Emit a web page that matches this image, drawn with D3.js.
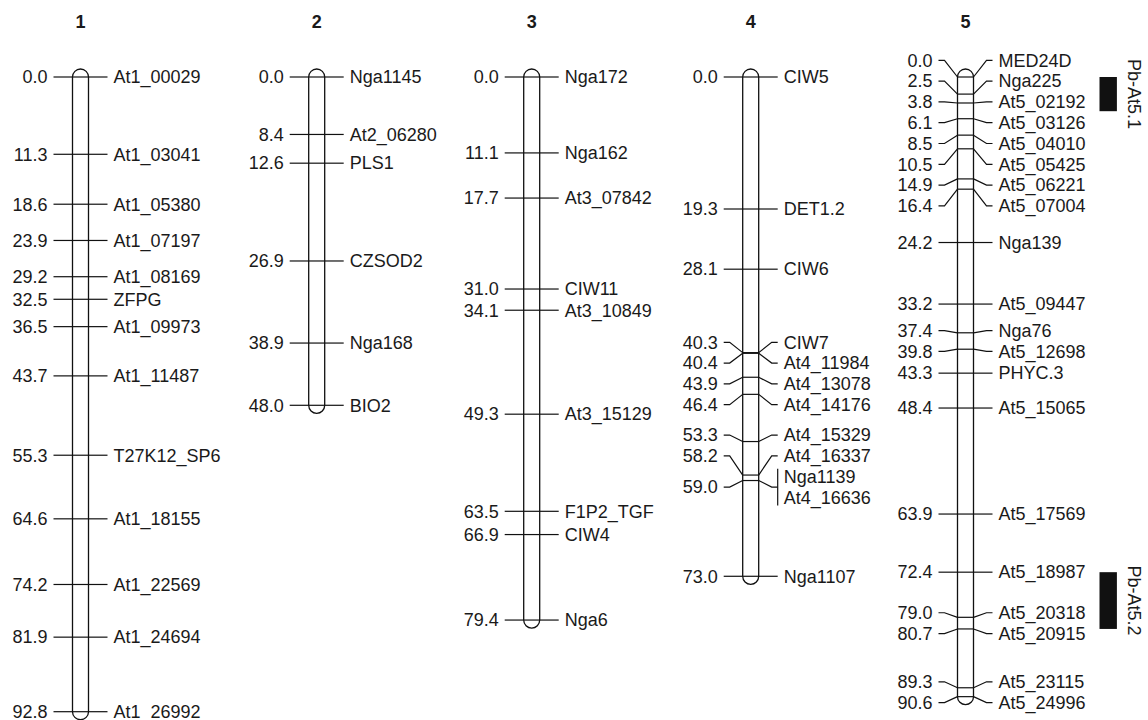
<!DOCTYPE html>
<html>
<head>
<meta charset="utf-8">
<script src="https://cdnjs.cloudflare.com/ajax/libs/d3/7.8.5/d3.min.js"></script>
<style>
body { margin: 0; background: #fff; }
text { font-family: "Liberation Sans", Arial, Helvetica, sans-serif; fill: #1a1a1a; }
</style>
</head>
<body>
<script>
// linkage groups
var chromosomes = ["1", "2", "3", "4", "5"];

var chr1Pos = [0.0, 11.3, 18.6, 23.9, 29.2, 32.5, 36.5, 43.7, 55.3, 64.6, 74.2, 81.9, 92.8];
var chr1Markers = ["At1_00029", "At1_03041", "At1_05380", "At1_07197", "At1_08169", "ZFPG", "At1_09973",
                   "At1_11487", "T27K12_SP6", "At1_18155", "At1_22569", "At1_24694", "At1_26992"];

var chr2Pos = [0.0, 8.4, 12.6, 26.9, 38.9, 48.0];
var chr2Markers = ["Nga1145", "At2_06280", "PLS1", "CZSOD2", "Nga168", "BIO2"];

var chr3Pos = [0.0, 11.1, 17.7, 31.0, 34.1, 49.3, 63.5, 66.9, 79.4];
var chr3Markers = ["Nga172", "Nga162", "At3_07842", "CIW11", "At3_10849", "At3_15129", "F1P2_TGF", "CIW4", "Nga6"];

var chr4Pos = [0.0, 19.3, 28.1, 40.3, 40.4, 43.9, 46.4, 53.3, 58.2, 59.0, 73.0];
var chr4Markers = ["CIW5", "DET1.2", "CIW6", "CIW7", "At4_11984", "At4_13078", "At4_14176", "At4_15329",
                   "At4_16337", ["Nga1139", "At4_16636"], "Nga1107"];

var chr5Pos = [0.0, 2.5, 3.8, 6.1, 8.5, 10.5, 14.9, 16.4, 24.2, 33.2, 37.4, 39.8, 43.3, 48.4, 63.9,
               72.4, 79.0, 80.7, 89.3, 90.6];
var chr5Markers = ["MED24D", "Nga225", "At5_02192", "At5_03126", "At5_04010", "At5_05425", "At5_06221",
                   "At5_07004", "Nga139", "At5_09447", "Nga76", "At5_12698", "PHYC.3", "At5_15065",
                   "At5_17569", "At5_18987", "At5_20318", "At5_20915", "At5_23115", "At5_24996"];

// QTL on chromosome 5
var qtlNames = ["Pb-At5.1", "Pb-At5.2"];
var qtlStart = [0.0, 72.4];
var qtlEnd = [5.0, 80.7];

var maps = [
    { name: "1", pos: chr1Pos, markers: chr1Markers },
    { name: "2", pos: chr2Pos, markers: chr2Markers },
    { name: "3", pos: chr3Pos, markers: chr3Markers },
    { name: "4", pos: chr4Pos, markers: chr4Markers },
    { name: "5", pos: chr5Pos, markers: chr5Markers }
];

var width = 1148, height = 720;
var halfW = 8, tickOut = 19, diag = 13, labelGap = 20.8;

var svg = d3.select("body")
            .append("svg")
            .attr("width", width)
            .attr("height", height)
            .attr("style", "background-color: #fff");

var x = d3.scaleOrdinal().domain(chromosomes).range([80.5, 316.7, 531.7, 750.7, 965.5]);
var y = d3.scaleLinear().domain([0, 92.8]).range([77, 711.7]);

var line = d3.line();

// push overlapping labels apart, each cluster centred on its first and last marker
function spreadLabels(items) {
    var blocks = items.map(function(d, i) { return { a: i, b: i }; });
    function placeBlock(bl) {
        var offs = [], acc = 0;
        for (var k = bl.a; k <= bl.b; k++) {
            var h = items[k].names.length * labelGap;
            offs.push(acc + h / 2);
            acc += h;
        }
        var mid = (items[bl.a].y + items[bl.b].y) / 2;
        bl.top = mid - (offs[0] + offs[offs.length - 1]) / 2;
        bl.height = acc;
        for (var k = bl.a; k <= bl.b; k++) items[k].ly = bl.top + offs[k - bl.a];
    }
    blocks.forEach(placeBlock);
    var merged = true;
    while (merged) {
        merged = false;
        for (var i = 0; i < blocks.length - 1; i++) {
            if (blocks[i].top + blocks[i].height > blocks[i + 1].top + 0.01) {
                blocks[i].b = blocks[i + 1].b;
                blocks.splice(i + 1, 1);
                placeBlock(blocks[i]);
                merged = true;
                break;
            }
        }
    }
}

maps.forEach(function(m) {
    var cx = x(m.name);
    var items = m.pos.map(function(p, i) {
        var mk = m.markers[i];
        return { cm: p, y: y(p), names: Array.isArray(mk) ? mk : [mk] };
    });
    spreadLabels(items);

    var g = svg.append("g");

    g.append("text")
     .attr("x", cx)
     .attr("y", 28)
     .attr("text-anchor", "middle")
     .attr("font-size", 18)
     .attr("font-weight", "bold")
     .text(m.name);

    var y0 = y(0), y1 = y(d3.max(m.pos));
    g.append("path")
     .attr("d", "M" + (cx - halfW) + "," + y0 + " L" + (cx - halfW) + "," + y1 +
                " A" + halfW + "," + halfW + " 0 0 0 " + (cx + halfW) + "," + y1 +
                " L" + (cx + halfW) + "," + y0 +
                " A" + halfW + "," + halfW + " 0 0 0 " + (cx - halfW) + "," + y0 + " Z")
     .attr("fill", "#fff")
     .attr("stroke", "#111")
     .attr("stroke-width", 1.3);

    var lines = g.append("g")
                 .attr("fill", "none")
                 .attr("stroke", "#111")
                 .attr("stroke-width", 1.2);

    items.forEach(function(d) {
        var L = cx - halfW, R = cx + halfW;
        // across the bar
        lines.append("path").attr("d", line([[L, d.y], [R, d.y]]));
        // left connector
        lines.append("path").attr("d", line([[L, d.y], [L - diag, d.ly], [L - tickOut, d.ly]]));
        // right connector
        lines.append("path").attr("d", line([[R, d.y], [R + diag, d.ly], [R + tickOut, d.ly]]));

        var n = d.names.length;
        var firstY = d.ly - (n - 1) * labelGap / 2;
        if (n > 1) {
            lines.append("path")
                 .attr("d", line([[R + tickOut, firstY - 8], [R + tickOut, firstY + (n - 1) * labelGap + 8]]));
        }

        g.append("text")
         .attr("x", L - tickOut - 6)
         .attr("y", d.ly)
         .attr("dy", "0.35em")
         .attr("text-anchor", "end")
         .attr("font-size", 18)
         .text(d.cm.toFixed(1));

        d.names.forEach(function(nm, j) {
            g.append("text")
             .attr("x", R + tickOut + 6)
             .attr("y", firstY + j * labelGap)
             .attr("dy", "0.35em")
             .attr("font-size", 18)
             .text(nm);
        });
    });
});

// QTL bars beside chromosome 5
var qx = x("5") + 134;
var qtl = svg.append("g");
qtl.selectAll("rect")
   .data(qtlNames)
   .enter()
        .append("rect")
        .attr("x", qx)
        .attr("width", 17.4)
        .attr("y", function(d, i) { return y(qtlStart[i]); })
        .attr("height", function(d, i) { return y(qtlEnd[i]) - y(qtlStart[i]); })
        .attr("fill", "#111");

qtl.selectAll("text")
   .data(qtlNames)
   .enter()
        .append("text")
        .attr("transform", function(d, i) {
            return "translate(" + (qx + 28) + "," + ((y(qtlStart[i]) + y(qtlEnd[i])) / 2) + ") rotate(90)";
        })
        .attr("text-anchor", "middle")
        .attr("font-size", 18)
        .text(function(d) { return d; });
</script>
</body>
</html>
